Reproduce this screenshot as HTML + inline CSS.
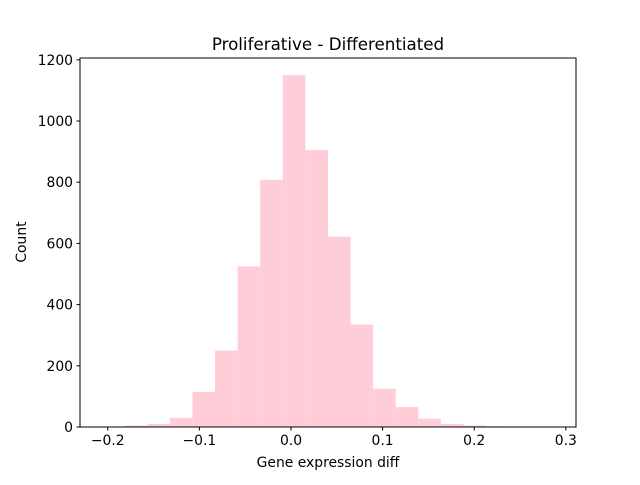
<!DOCTYPE html>
<html><head><meta charset="utf-8"><style>
body{margin:0;background:#fff;}
svg text{font-family:"DejaVu Sans","Liberation Sans",sans-serif;}
</style></head><body>
<svg id="chart" width="640" height="480" viewBox="0 0 640 480">
<rect width="640" height="480" fill="#fff"/>
<g id="bars"></g>
<rect x="80" y="58" width="496" height="369" fill="none" stroke="#000" stroke-width="1"/>
<g id="axes"></g>
<text x="328" y="50" font-size="16.7" text-anchor="middle">Proliferative - Differentiated</text>
<text x="328" y="467" font-size="13.9" text-anchor="middle">Gene expression diff</text>
<text x="26" y="242" font-size="13.9" text-anchor="middle" transform="rotate(-90 26 242)">Count</text>
</svg>
<script>
const binStart = -0.1815;
const binWidth = 0.02465;
const counts = [5,10,30,115,250,525,808,1150,905,622,335,125,65,27,10,5,2];
const xTicks = [-0.2,-0.1,0.0,0.1,0.2,0.3];
const xTickLabels = ["−0.2","−0.1","0.0","0.1","0.2","0.3"];
const yTicks = [0,200,400,600,800,1000,1200];

const X0=80,X1=576,Y0=427,Y1=58;
const xMin=-0.2303,xMax=0.3111,yMin=0,yMax=1206;
const xs=v=>X0+(v-xMin)/(xMax-xMin)*(X1-X0);
const ys=v=>Y0-(v-yMin)/(yMax-yMin)*(Y0-Y1);
const NS="http://www.w3.org/2000/svg";
const bars=document.getElementById('bars'), axes=document.getElementById('axes');
counts.forEach((c,i)=>{
  const r=document.createElementNS(NS,'rect');
  const a=xs(binStart+i*binWidth), b=xs(binStart+(i+1)*binWidth);
  r.setAttribute('x',a);r.setAttribute('width',b-a);
  r.setAttribute('y',ys(c));r.setAttribute('height',Y0-ys(c));
  r.setAttribute('fill','#ffcdd7');
  
  
  bars.appendChild(r);
});
xTicks.forEach((t,i)=>{
  const x=xs(t);
  const l=document.createElementNS(NS,'line');
  l.setAttribute('x1',x);l.setAttribute('x2',x);l.setAttribute('y1',Y0);l.setAttribute('y2',Y0+3.5);
  l.setAttribute('stroke','#000');
  
  
  axes.appendChild(l);
  const tx=document.createElementNS(NS,'text');
  tx.setAttribute('x',x);tx.setAttribute('y',Y0+18);tx.setAttribute('font-size','13.9');tx.setAttribute('text-anchor','middle');
  tx.textContent=xTickLabels[i];
  
  
  axes.appendChild(tx);
});
yTicks.forEach(t=>{
  const y=ys(t);
  const l=document.createElementNS(NS,'line');
  l.setAttribute('x1',X0-3.5);l.setAttribute('x2',X0);l.setAttribute('y1',y);l.setAttribute('y2',y);
  l.setAttribute('stroke','#000');
  
  
  axes.appendChild(l);
  const tx=document.createElementNS(NS,'text');
  tx.setAttribute('x',X0-7);tx.setAttribute('y',y+5);tx.setAttribute('font-size','13.9');tx.setAttribute('text-anchor','end');
  tx.textContent=t;
  
  
  axes.appendChild(tx);
});
</script>
</body></html>
